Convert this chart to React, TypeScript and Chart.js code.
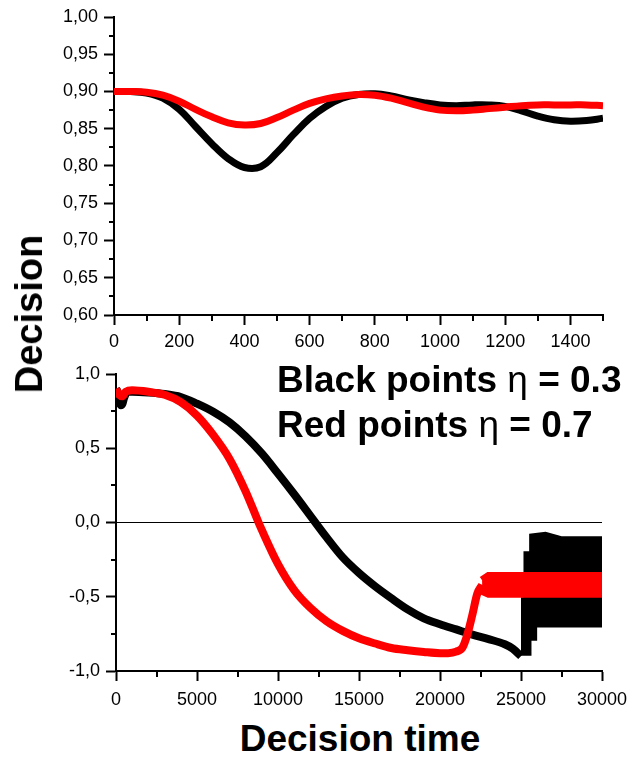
import React, { useEffect, useRef } from 'react';
import { Chart, registerables } from 'chart.js';
Chart.register(...registerables);

const FONT = '"Liberation Sans", Arial, Helvetica, sans-serif';

// ---- Top panel (zoom of the first 1500 decision times) ----
const topX = [0, 50, 100, 150, 200, 250, 300, 350, 400, 450, 500, 550, 600, 650, 700, 750, 800, 850, 900, 950, 1000, 1050, 1100, 1150, 1200, 1250, 1300, 1350, 1400, 1450, 1500];
const topBlack = [0.900, 0.900, 0.898, 0.891, 0.876, 0.853, 0.830, 0.810, 0.798, 0.799, 0.818, 0.842, 0.864, 0.880, 0.891, 0.896, 0.897, 0.894, 0.889, 0.885, 0.882, 0.881, 0.882, 0.882, 0.880, 0.874, 0.867, 0.862, 0.860, 0.861, 0.864];
const topRed = [0.900, 0.900, 0.899, 0.895, 0.887, 0.876, 0.866, 0.858, 0.855, 0.857, 0.865, 0.875, 0.884, 0.890, 0.894, 0.896, 0.895, 0.891, 0.885, 0.879, 0.875, 0.874, 0.875, 0.877, 0.879, 0.881, 0.882, 0.882, 0.882, 0.882, 0.881];

// ---- Bottom panel (full run) ----
const botBlackX = [0, 100, 200, 300, 400, 500, 700, 1000, 2000, 3000, 4000, 5000, 6000, 7000, 8000, 9000, 10000, 11000, 12000, 13000, 14000, 15000, 16000, 17000, 18000, 19000, 20000, 21000, 22000, 23000, 24000, 24500, 25000];
const botBlackY = [0.90, 0.88, 0.82, 0.79, 0.80, 0.84, 0.88, 0.88, 0.875, 0.865, 0.845, 0.80, 0.746, 0.675, 0.58, 0.465, 0.33, 0.19, 0.045, -0.10, -0.235, -0.34, -0.43, -0.51, -0.585, -0.645, -0.685, -0.72, -0.755, -0.785, -0.82, -0.85, -0.90];
const botRedX = [0, 200, 400, 600, 1000, 2000, 3000, 4000, 5000, 6000, 7000, 8000, 8800, 9000, 10000, 11000, 12000, 13000, 14000, 15000, 16000, 17000, 18000, 19000, 20000, 20500, 21000, 21400, 21700, 22000, 22300, 22600];
const botRedY = [0.90, 0.86, 0.85, 0.88, 0.89, 0.88, 0.86, 0.81, 0.72, 0.59, 0.43, 0.21, 0.00, -0.05, -0.28, -0.455, -0.575, -0.665, -0.73, -0.78, -0.815, -0.845, -0.86, -0.872, -0.88, -0.88, -0.87, -0.84, -0.75, -0.62, -0.48, -0.42];

// oscillating regions: envelopes (upper / lower) of the dense points
const blackBandX = [25000, 25400, 25400, 25750, 25750, 26500, 27500, 30000];
const blackBandUpper = [-0.53, -0.53, -0.22, -0.22, -0.10, -0.09, -0.12, -0.12];
const blackBandLower = [-0.87, -0.87, -0.77, -0.77, -0.68, -0.68, -0.68, -0.68];
const redBandX = [22600, 23000, 24000, 30000];
const redBandUpper = [-0.39, -0.36, -0.36, -0.36];
const redBandLower = [-0.46, -0.48, -0.48, -0.48];

const pts = (xs: number[], ys: number[]) => xs.map((x, i) => ({ x, y: ys[i] }));
const band = (xs: number[], up: number[], lo: number[]) => [
  ...pts(xs, up),
  ...pts(xs, lo).reverse(),
];

const minorTicks = {
  id: 'minorTicks',
  afterDraw(chart: any) {
    const ctx = chart.ctx;
    ctx.save();
    ctx.strokeStyle = '#000';
    ctx.lineWidth = 2;
    const area = chart.chartArea;
    const xs = chart.scales.x;
    const ys = chart.scales.y;
    const xStep = xs.options.ticks.stepSize / 2;
    for (let v = xs.min + xStep; v <= xs.max + 1e-9; v += 2 * xStep) {
      const p = Math.round(xs.getPixelForValue(v));
      ctx.beginPath();
      ctx.moveTo(p, area.bottom);
      ctx.lineTo(p, area.bottom + 6);
      ctx.stroke();
    }
    const yStep = ys.options.ticks.stepSize / 2;
    for (let v = ys.min + yStep; v <= ys.max + 1e-9; v += 2 * yStep) {
      const p = Math.round(ys.getPixelForValue(v));
      ctx.beginPath();
      ctx.moveTo(area.left, p);
      ctx.lineTo(area.left - 5, p);
      ctx.stroke();
    }
    ctx.restore();
  },
};

function axis(min: number, max: number, step: number, fmt: (v: number) => string, fixed: number, horizontal: boolean, pad: number, zeroLine = false) {
  return {
    type: 'linear',
    min,
    max,
    afterFit: (s: any) => {
      if (horizontal) s.height = fixed;
      else s.width = fixed;
      s.paddingLeft = 0;
      s.paddingRight = 0;
      s.paddingTop = 0;
      s.paddingBottom = 0;
    },
    border: { display: true, color: '#000', width: 2 },
    grid: {
      display: true,
      drawOnChartArea: zeroLine,
      drawTicks: true,
      tickLength: 10,
      tickWidth: 2,
      tickColor: '#000',
      lineWidth: 1,
      color: (c: any) => (zeroLine && c.tick && Math.abs(c.tick.value) < 1e-9 ? '#000' : 'rgba(0,0,0,0)'),
    },
    ticks: {
      stepSize: step,
      includeBounds: false,
      autoSkip: false,
      maxRotation: 0,
      color: '#000',
      padding: pad,
      font: { family: FONT, size: 18 },
      callback: (v: any) => fmt(Number(v)),
    },
  };
}

function baseOptions(pad: any, scales: any) {
  return {
    responsive: false,
    animation: false,
    devicePixelRatio: 1,
    events: [],
    layout: { padding: pad },
    plugins: { legend: { display: false }, tooltip: { enabled: false } },
    elements: { point: { radius: 0 } },
    scales,
  };
}

export default function App() {
  const topRef = useRef<HTMLCanvasElement>(null);
  const botRef = useRef<HTMLCanvasElement>(null);

  useEffect(() => {
    const top = new Chart(topRef.current as HTMLCanvasElement, {
      type: 'line',
      data: {
        datasets: [
          { data: pts(topX, topRed), borderColor: '#ff0000', borderWidth: 7, tension: 0.4, order: 0, fill: false },
          { data: pts(topX, topBlack), borderColor: '#000000', borderWidth: 7, tension: 0.4, order: 1, fill: false },
        ],
      },
      options: baseOptions({ top: 17, right: 29, left: 0, bottom: 0 }, {
        x: axis(0, 1500, 200, (v) => String(Math.round(v)), 35, true, 6),
        y: axis(0.6, 1.0, 0.05, (v) => v.toFixed(2).replace('.', ','), 114, false, 6),
      }) as any,
      plugins: [minorTicks],
    } as any);

    const bot = new Chart(botRef.current as HTMLCanvasElement, {
      type: 'line',
      data: {
        datasets: [
          { data: band(redBandX, redBandUpper, redBandLower), borderColor: '#ff0000', backgroundColor: '#ff0000', borderWidth: 8, tension: 0, fill: 'shape', order: 0, clip: 0 },
          { data: pts(botRedX, botRedY), borderColor: '#ff0000', borderWidth: 8, cubicInterpolationMode: 'monotone', order: 1, fill: false },
          { data: band(blackBandX, blackBandUpper, blackBandLower), borderColor: '#000000', backgroundColor: '#000000', borderWidth: 8, tension: 0, fill: 'shape', order: 2, clip: 0 },
          { data: pts(botBlackX, botBlackY), borderColor: '#000000', borderWidth: 8, cubicInterpolationMode: 'monotone', order: 3, fill: false },
        ],
      },
      options: baseOptions({ top: 24, right: 30, left: 0, bottom: 0 }, {
        x: axis(0, 30000, 5000, (v) => String(Math.round(v)), 40, true, 8),
        y: axis(-1, 1, 0.5, (v) => v.toFixed(1).replace('.', ','), 116, false, 6, true),
      }) as any,
      plugins: [minorTicks],
    } as any);

    return () => {
      top.destroy();
      bot.destroy();
    };
  }, []);

  const bold = { fontFamily: FONT, fontWeight: 700, color: '#000', position: 'absolute' as const, whiteSpace: 'nowrap' as const, lineHeight: 1 };
  const eta = { fontWeight: 400 };

  return (
    <div style={{ position: 'absolute', left: 0, top: 0, width: 632, height: 758, background: '#fff', overflow: 'hidden' }}>
      <canvas ref={topRef} width={632} height={350} style={{ position: 'absolute', left: 0, top: 0, width: 632, height: 350 }} />
      <canvas ref={botRef} width={632} height={361} style={{ position: 'absolute', left: 0, top: 350, width: 632, height: 361 }} />
      <div style={{ ...bold, fontSize: 38, left: 29, top: 314, transform: 'translate(-50%, -50%) rotate(-90deg)' }}>Decision</div>
      <div style={{ ...bold, fontSize: 37, left: 360, top: 720, transform: 'translateX(-50%)' }}>Decision time</div>
      <div style={{ ...bold, fontSize: 37, left: 277, top: 361 }}>Black points <span style={eta}>η</span> = 0.3</div>
      <div style={{ ...bold, fontSize: 37, left: 277, top: 406 }}>Red points <span style={eta}>η</span> = 0.7</div>
    </div>
  );
}
